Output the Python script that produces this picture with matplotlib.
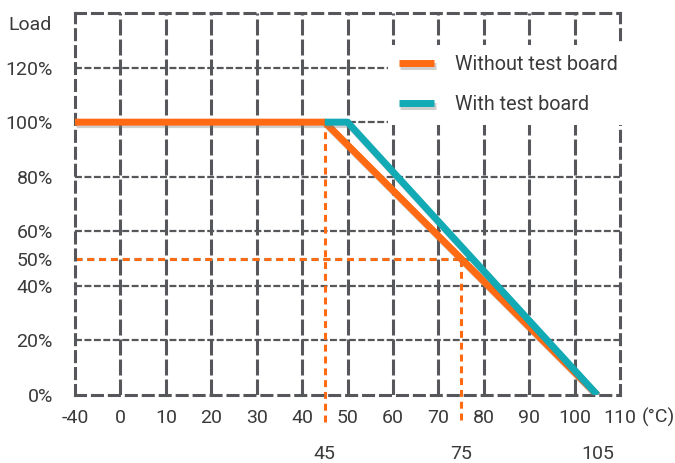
import numpy as np
import matplotlib.pyplot as plt
import matplotlib.patheffects as pe

plt.rcParams['font.family'] = ['Roboto', 'DejaVu Sans']
plt.rcParams['lines.scale_dashes'] = False

# derating curves (temperature in degC, load in %)
temp_without = [-40, 45, 105]
load_without = [100, 100, 0]
temp_with = [45, 50, 105]
load_with = [100, 100, 0]

x_ticks = [-40, 0, 10, 20, 30, 40, 50, 60, 70, 80, 90, 100, 110]
y_ticks = [0, 20, 40, 50, 60, 80, 100, 120]
y_grid = [0, 20, 40, 60, 80, 100, 120]
marks = [45, 75, 105]  # temperatures called out below the axis
half_load = 50
half_temp_with = 77.5

orange = '#ff6a13'
teal = '#12aab4'
grid_c = '#55575a'
text_c = '#3a3a3a'


def pos(t):
    # the axis is not to scale: -40 sits one grid step left of 0
    t = np.asarray(t, dtype=float)
    return np.where(t < 0, -10.0, t)


fig = plt.figure(figsize=(6.75, 4.63), dpi=100)
ax = fig.add_axes([75 / 675, 1 - 395 / 463, 545 / 675, 382 / 463])
ax.set_xlim(-10, 110)
ax.set_ylim(0, 140)

# grid
for t in x_ticks[1:-1]:
    ax.axvline(pos(t), color=grid_c, lw=2.2, ls=(0, (11.5, 2.9)), zorder=1)
for v in y_grid[1:]:
    ax.axhline(v, color=grid_c, lw=1.6, ls=(0, (5, 1.8)), zorder=1)
for s in ax.spines.values():
    s.set_color(grid_c)
    s.set_linewidth(2.2)
    s.set_linestyle((0, (7.2, 5)))

# 50 % reading lines
dash = (0, (5, 3.5))
ax.plot(pos([-40, half_temp_with]), [half_load, half_load], color=teal, lw=2.2, ls=dash, zorder=2)
ax.plot(pos([-40, marks[1]]), [half_load, half_load], color=orange, lw=2.2, ls=dash, zorder=2.1)
ax.plot(pos([marks[0], marks[0]]), [-10, 100], color=orange, lw=2.2, ls=dash, zorder=2.1, clip_on=False)
ax.plot(pos([marks[1], marks[1]]), [-9, half_load], color=orange, lw=2.2, ls=dash, zorder=2.1, clip_on=False)

shadow = [pe.SimpleLineShadow(offset=(1.2, -1.8), shadow_color='#777777', alpha=0.35), pe.Normal()]
ax.plot(pos(temp_without), load_without, color=orange, lw=5, zorder=3,
        solid_capstyle='butt', path_effects=shadow, label='Without test board')
ax.plot(pos(temp_with), load_with, color=teal, lw=5, zorder=3.1,
        solid_capstyle='butt', path_effects=shadow, label='With test board')

ax.set_xticks(pos(x_ticks), [str(t) for t in x_ticks])
ax.set_xticks(pos(marks), [str(t) for t in marks], minor=True)
ax.set_yticks(y_ticks, [f'{v}%' for v in y_ticks])
ax.tick_params(axis='both', which='both', length=0, labelsize=14, labelcolor=text_c)
ax.tick_params(axis='x', which='major', pad=10)
ax.tick_params(axis='x', which='minor', pad=36)
ax.tick_params(axis='y', pad=16)

fig.text(8 / 675, 1 - 25 / 463, 'Load', fontsize=14, color=text_c, va='center')
fig.text(642 / 675, 1 - 417 / 463, '(°C)', fontsize=14, color=text_c, va='center')

leg = ax.legend(loc='lower left', bbox_to_anchor=(0.574, 0.707, 0.45, 0.222), mode='expand',
                fontsize=14.2, frameon=True, facecolor='white', edgecolor='none', framealpha=1,
                fancybox=False, handlelength=1.8, handletextpad=1.05, labelspacing=1.05,
                borderpad=0.55, borderaxespad=0)
for t in leg.get_texts():
    t.set_color(text_c)
leg.set_zorder(5)

fig.savefig('out.png', dpi=100)
